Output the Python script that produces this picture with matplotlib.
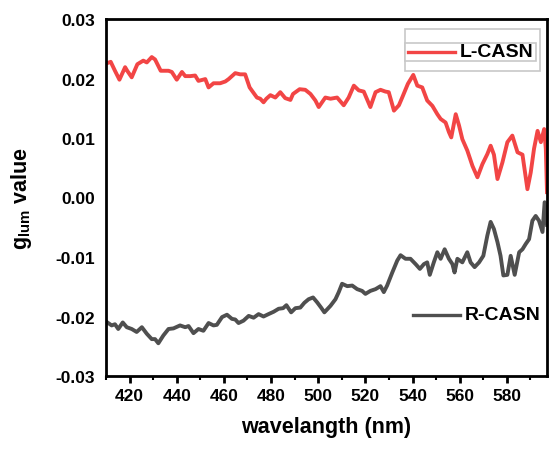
import matplotlib
matplotlib.use("Agg")
import matplotlib.pyplot as plt
from matplotlib.lines import Line2D
from matplotlib.patches import Rectangle
from matplotlib.ticker import MultipleLocator

# wavelength (nm) and g_lum for the two samples
l_wavelength = [410.6, 412.0, 413.8, 415.7, 418.1, 419.0, 420.9, 423.3, 425.8, 427.3,
                429.4, 430.8, 433.2, 436.5, 437.9, 440.0, 442.2, 443.6, 445.7, 447.8,
                449.2, 452.1, 453.5, 455.6, 458.4, 460.6, 462.0, 464.8, 466.9, 469.0,
                470.9, 472.9, 474.0, 475.4, 476.8, 478.0, 479.7, 481.8, 483.9, 486.0,
                488.2, 489.3, 492.1, 494.5, 496.7, 498.8, 500.2, 503.0, 505.2, 508.0,
                510.8, 512.9, 515.1, 517.2, 519.3, 522.1, 524.3, 526.4, 528.5, 529.9,
                532.1, 534.2, 535.6, 538.0, 540.3, 542.0, 544.1, 546.2, 548.4, 550.5,
                551.9, 554.0, 555.4, 556.4, 558.3, 559.7, 561.1, 563.2, 565.4, 567.5,
                569.6, 571.7, 573.1, 574.5, 576.0, 578.1, 580.2, 582.3, 584.5, 586.6,
                588.7, 590.1, 591.5, 593.0, 594.4, 595.8, 596.5, 597.0]
l_glum = [0.0226, 0.0228, 0.0213, 0.0198, 0.0219, 0.0213, 0.0202, 0.0224, 0.0230, 0.0227,
          0.0236, 0.0232, 0.0213, 0.0213, 0.0211, 0.0198, 0.0211, 0.0204, 0.0204, 0.0205,
          0.0196, 0.0199, 0.0185, 0.0192, 0.0192, 0.0195, 0.0199, 0.0209, 0.0207, 0.0207,
          0.0185, 0.0174, 0.0168, 0.0166, 0.0160, 0.0166, 0.0172, 0.0168, 0.0177, 0.0167,
          0.0164, 0.0174, 0.0182, 0.0181, 0.0174, 0.0163, 0.0152, 0.0168, 0.0166, 0.0168,
          0.0155, 0.0168, 0.0188, 0.0180, 0.0178, 0.0152, 0.0177, 0.0181, 0.0178, 0.0177,
          0.0146, 0.0155, 0.0168, 0.0191, 0.0206, 0.0188, 0.0185, 0.0163, 0.0154, 0.0140,
          0.0132, 0.0126, 0.0110, 0.0101, 0.0140, 0.0121, 0.0098, 0.0079, 0.0053, 0.0034,
          0.0056, 0.0073, 0.0087, 0.0072, 0.0031, 0.0059, 0.0093, 0.0104, 0.0076, 0.0072,
          0.0014, 0.0042, 0.0082, 0.0112, 0.0093, 0.0115, 0.0082, 0.0009]

r_wavelength = [410.6, 412.4, 413.8, 415.2, 417.1, 418.8, 420.9, 423.0, 425.2, 427.3,
                429.4, 430.8, 432.2, 434.3, 436.5, 438.6, 441.4, 443.6, 445.0, 447.1,
                449.2, 451.3, 453.5, 455.6, 457.0, 459.2, 461.3, 463.4, 464.8, 466.2,
                468.3, 470.5, 472.6, 474.7, 476.8, 478.9, 481.1, 483.2, 485.1, 486.5,
                488.5, 490.3, 492.4, 494.1, 495.9, 497.8, 499.5, 501.2, 502.6, 505.2,
                507.3, 508.7, 510.1, 512.3, 514.4, 516.5, 518.6, 520.0, 522.1, 524.3,
                526.4, 527.8, 529.2, 531.4, 533.5, 534.9, 537.0, 539.1, 541.3, 543.1,
                544.8, 546.2, 547.3, 549.0, 550.5, 551.9, 553.6, 555.4, 556.9, 557.8,
                559.0, 561.1, 563.2, 564.6, 566.3, 568.2, 570.0, 571.7, 573.1, 574.5,
                576.0, 577.3, 578.5, 580.2, 581.6, 583.3, 585.2, 586.6, 588.0, 589.4,
                590.8, 592.2, 593.6, 595.1, 596.0, 597.0]
r_glum = [-0.0210, -0.0215, -0.0213, -0.0221, -0.0210, -0.0218, -0.0221, -0.0226, -0.0218, -0.0229,
          -0.0238, -0.0238, -0.0245, -0.0232, -0.0221, -0.0220, -0.0215, -0.0218, -0.0216, -0.0228,
          -0.0221, -0.0224, -0.0211, -0.0215, -0.0214, -0.0201, -0.0197, -0.0204, -0.0205, -0.0211,
          -0.0207, -0.0199, -0.0202, -0.0196, -0.0200, -0.0196, -0.0192, -0.0187, -0.0186, -0.0181,
          -0.0193, -0.0186, -0.0185, -0.0177, -0.0171, -0.0168, -0.0176, -0.0185, -0.0193, -0.0182,
          -0.0171, -0.0159, -0.0145, -0.0149, -0.0148, -0.0154, -0.0157, -0.0162, -0.0157, -0.0154,
          -0.0149, -0.0159, -0.0148, -0.0126, -0.0106, -0.0097, -0.0103, -0.0103, -0.0112, -0.0120,
          -0.0112, -0.0109, -0.0130, -0.0109, -0.0092, -0.0103, -0.0087, -0.0103, -0.0112, -0.0126,
          -0.0103, -0.0109, -0.0092, -0.0109, -0.0117, -0.0109, -0.0098, -0.0064, -0.0041, -0.0053,
          -0.0075, -0.0098, -0.0131, -0.0130, -0.0098, -0.0130, -0.0092, -0.0087, -0.0078, -0.0070,
          -0.0039, -0.0031, -0.0039, -0.0058, -0.0008, -0.0046]

x_ticks = [420, 440, 460, 480, 500, 520, 540, 560, 580]
y_ticks = [-0.03, -0.02, -0.01, 0.00, 0.01, 0.02, 0.03]

RED = "#f24545"
GREY = "#4f4f4f"

plt.rcParams.update({
    "font.family": ["Liberation Sans", "DejaVu Sans"],
    "font.weight": "bold",
    "mathtext.fontset": "custom",
    "mathtext.rm": "Liberation Sans:bold",
    "mathtext.it": "Liberation Sans:bold",
    "mathtext.bf": "Liberation Sans:bold",
    "axes.linewidth": 2,
})

fig = plt.figure(figsize=(5.49, 4.52), dpi=100)
ax = fig.add_axes([106 / 549, 75 / 452, 441 / 549, 357 / 452])

ax.plot(l_wavelength, l_glum, color=RED, lw=2.8)
ax.plot(r_wavelength, r_glum, color=GREY, lw=2.8)

ax.set_xlim(410, 597)
ax.set_ylim(-0.03, 0.03)
ax.set_xticks(x_ticks)
ax.set_yticks(y_ticks)
ax.set_yticklabels([f"{v:.2f}" for v in y_ticks])
ax.xaxis.set_minor_locator(MultipleLocator(10))
ax.tick_params(axis="x", which="major", direction="out", length=5, width=2, labelsize=12.5, pad=4)
ax.tick_params(axis="x", which="minor", direction="out", length=3, width=1.5)
ax.tick_params(axis="y", which="major", length=0, labelsize=12.5, pad=8)

ax.set_xlabel("wavelangth (nm)", fontsize=15.5, fontweight="bold", labelpad=9)
ax.set_ylabel(r"g$_{\mathrm{lum}}$ value", fontsize=15.5, fontweight="bold", labelpad=15)

# framed legend for L-CASN (outer box plus inner row box)
ax.add_patch(Rectangle((0.678, 0.854), 0.306, 0.118, transform=ax.transAxes,
                       fill=False, edgecolor="#c8c8c8", lw=1.2, zorder=4))
ax.add_patch(Rectangle((0.678, 0.882), 0.298, 0.052, transform=ax.transAxes,
                       facecolor="white", edgecolor="#c8c8c8", lw=1.2, zorder=4))
ax.add_line(Line2D([0.685, 0.792], [0.908, 0.908], transform=ax.transAxes,
                   color=RED, lw=2.4, zorder=5))
ax.text(0.803, 0.908, "L-CASN", transform=ax.transAxes, fontsize=14,
        fontweight="bold", va="center", ha="left", zorder=5)

# unframed legend entry for R-CASN
ax.add_line(Line2D([0.696, 0.803], [0.171, 0.171], transform=ax.transAxes,
                   color=GREY, lw=2.4, zorder=5))
ax.text(0.814, 0.171, "R-CASN", transform=ax.transAxes, fontsize=14,
        fontweight="bold", va="center", ha="left", zorder=5)

fig.savefig("out.png", dpi=100)
